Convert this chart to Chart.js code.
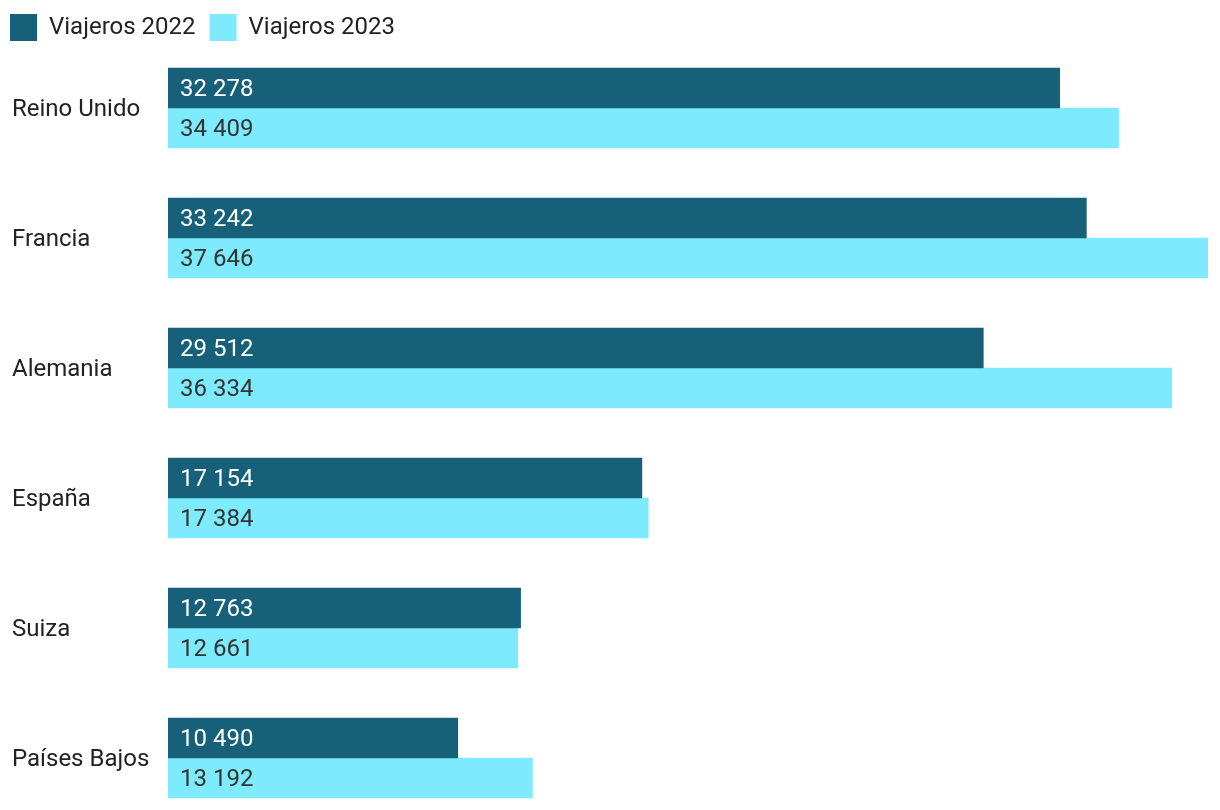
<!DOCTYPE html>
<html>
<head>
<meta charset="utf-8">
<script src="https://cdn.jsdelivr.net/npm/chart.js@4"></script>
<style>
  html, body { margin: 0; padding: 0; background: #fff; overflow: hidden; }
  canvas { display: block; }
</style>
</head>
<body>
<canvas id="c" width="1220" height="823"></canvas>
<script>
const categories = ['Reino Unido', 'Francia', 'Alemania', 'España', 'Suiza', 'Países Bajos'];
const seriesNames = ['Viajeros 2022', 'Viajeros 2023'];
const viajeros2022 = [32278, 33242, 29512, 17154, 12763, 10490];
const viajeros2023 = [34409, 37646, 36334, 17384, 12661, 13192];
const seriesColors = ['#16607a', '#7debfd'];
const labelColors = ['#ffffff', '#333333'];

function fmt(v) {
  return String(v).replace(/\B(?=(\d{3})+(?!\d))/g, ' ');
}

const legendTrim = {
  id: 'legendTrim',
  beforeLayout(chart) {
    const lg = chart.legend;
    if (lg && !lg._trimmed) {
      const orig = lg.fit;
      lg.fit = function () { orig.call(this); this.height = 43; };
      lg._trimmed = true;
    }
  },
  afterLayout(chart) {
    const lg = chart.legend;
    if (lg) {
      const w = lg.right - lg.left;
      lg.left = -4;
      lg.right = lg.left + w;
      lg.top = 0;
      lg.bottom = 43;
    }
  }
};

const barLabels = {
  id: 'barLabels',
  afterDatasetsDraw(chart) {
    const ctx = chart.ctx;
    ctx.save();
    ctx.font = '24px Roboto';
    ctx.textAlign = 'left';
    ctx.textBaseline = 'middle';
    chart.data.datasets.forEach((ds, di) => {
      const meta = chart.getDatasetMeta(di);
      meta.data.forEach((el, i) => {
        ctx.fillStyle = labelColors[di];
        ctx.fillText(fmt(ds.data[i]), el.base + 12, el.y + 2);
      });
    });
    ctx.restore();
  }
};

new Chart(document.getElementById('c'), {
  type: 'bar',
  data: {
    labels: categories,
    datasets: [
      { label: seriesNames[0], data: viajeros2022, backgroundColor: seriesColors[0] },
      { label: seriesNames[1], data: viajeros2023, backgroundColor: seriesColors[1] }
    ]
  },
  options: {
    indexAxis: 'y',
    responsive: false,
    animation: false,
    layout: { padding: { left: 12, right: 12, top: 0, bottom: 0 } },
    datasets: { bar: { barThickness: 40, categoryPercentage: 1, barPercentage: 1 } },
    plugins: {
      tooltip: { enabled: false },
      legend: {
        position: 'top',
        align: 'start',
        labels: {
          boxWidth: 27,
          boxHeight: 27,
          padding: 14,
          color: '#222',
          font: { family: 'Roboto', size: 24 }
        }
      }
    },
    scales: {
      x: { display: false, min: 0, max: 37646 },
      y: {
        grid: { display: false },
        border: { display: false },
        afterFit(scale) {
          scale.width = 156;
          scale.paddingTop = 0;
          scale.paddingBottom = 0;
        },
        ticks: {
          crossAlign: 'far',
          labelOffset: 2,
          color: '#222',
          font: { family: 'Roboto', size: 24 }
        }
      }
    }
  },
  plugins: [legendTrim, barLabels]
});
</script>
</body>
</html>
